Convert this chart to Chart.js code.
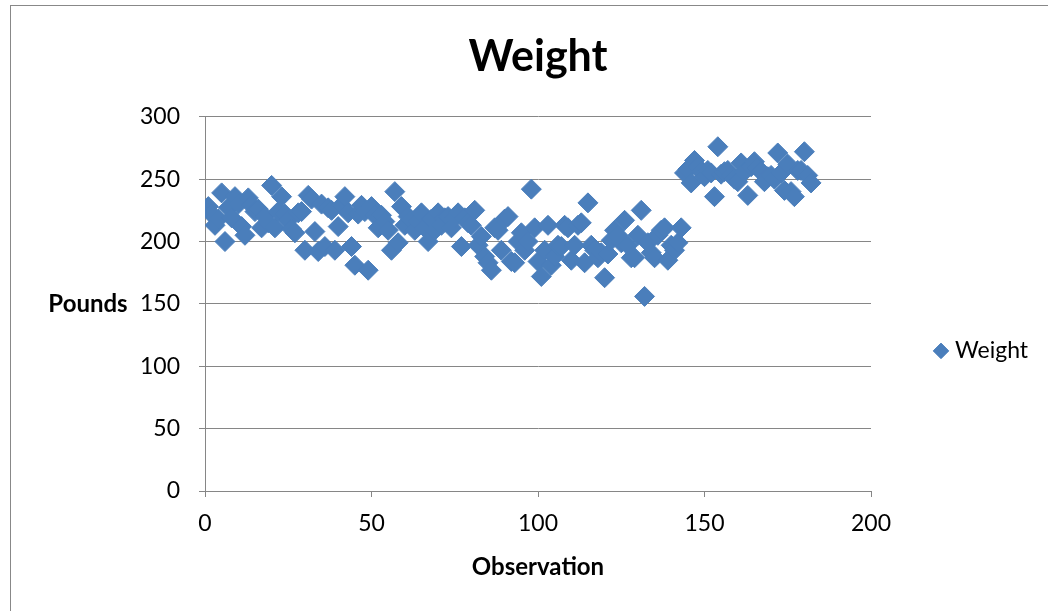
<!DOCTYPE html>
<html>
<head>
<meta charset="utf-8">
<script src="https://cdn.jsdelivr.net/npm/chart.js@4.4.1/dist/chart.umd.min.js"></script>
<style>
  html, body { margin: 0; padding: 0; background: #fff; }
  #frame { position: absolute; left: 10px; top: 5px; width: 1200px; height: 800px; border: 1px solid #888; box-sizing: border-box; }
  #c { position: absolute; left: 0; top: 0; }
</style>
</head>
<body>
<div id="frame"></div>
<canvas id="c" width="1048" height="611"></canvas>
<script>
const chartTitle = 'Weight';
const seriesLabel = 'Weight';
const xAxisTitle = 'Observation';
const yAxisTitle = 'Pounds';
const xTicks = [0, 50, 100, 150, 200];
const yTicks = [0, 50, 100, 150, 200, 250, 300];

// Weight (pounds) by observation 1..182
const weights = [
  228, 222, 213, 218, 239, 200, 227, 219, 236, 230,
  212, 205, 235, 229, 224, 226, 211, 220, 215, 245,
  211, 224, 236, 222, 217, 210, 207, 223, 224, 193,
  237, 234, 208, 192, 230, 196, 227, 225, 193, 212,
  229, 236, 223, 196, 181, 222, 229, 224, 177, 228,
  221, 211, 221, 216, 209, 193, 240, 199, 228, 213,
  220, 217, 209, 216, 223, 211, 200, 218, 209, 223,
  213, 219, 220, 211, 219, 223, 196, 219, 215, 213,
  225, 197, 204, 188, 183, 177, 211, 209, 193, 218,
  220, 184, 183, 200, 207, 193, 200, 242, 211, 184,
  172, 193, 213, 181, 188, 197, 196, 213, 211, 185,
  197, 213, 215, 183, 231, 197, 193, 187, 191, 171,
  190, 201, 209, 205, 199, 217, 197, 187, 187, 205,
  225, 156, 199, 191, 187, 205, 209, 211, 185, 197,
  193, 199, 211, 255, 258, 247, 265, 260, 256, 252,
  257, 255, 236, 276, 254, 256, 257, 253, 250, 248,
  263, 256, 237, 260, 264, 259, 256, 248, 252, 253,
  250, 271, 255, 241, 262, 240, 236, 257, 257, 272,
  253, 247
];

const FONT = 'Lato, "Open Sans", sans-serif';
const AXIS_COLOR = '#868686';
const MARK_COLOR = '#4a7ebb';
Chart.defaults.font.family = FONT;
Chart.defaults.color = '#000';

const legendWidthPlugin = {
  id: 'legendWidth',
  beforeUpdate(chart) {
    const lg = chart.legend;
    if (lg && !lg._fixedFit) {
      const orig = lg.fit.bind(lg);
      lg.fit = function () { orig(); this.width = 177; };
      lg._fixedFit = true;
    }
  }
};

const yTitlePlugin = {
  id: 'yTitleHorizontal',
  afterDraw(chart) {
    const ctx = chart.ctx;
    ctx.save();
    ctx.font = 'bold 24px ' + FONT;
    ctx.fillStyle = '#000';
    ctx.textAlign = 'center';
    ctx.textBaseline = 'middle';
    ctx.fillText(yAxisTitle, 88, 304);
    ctx.restore();
  }
};

new Chart(document.getElementById('c'), {
  type: 'scatter',
  data: {
    datasets: [{
      label: seriesLabel,
      data: weights.map((v, i) => ({ x: i + 1, y: v })),
      pointStyle: 'rectRot',
      pointRadius: 10,
      pointHoverRadius: 10,
      backgroundColor: MARK_COLOR,
      borderColor: MARK_COLOR,
      borderWidth: 1
    }]
  },
  options: {
    responsive: false,
    animation: false,
    devicePixelRatio: 1,
    layout: { padding: 0 },
    plugins: {
      title: {
        display: true, text: chartTitle, fullSize: false, color: '#000',
        font: { family: FONT, size: 43, weight: 'bold', lineHeight: 1.2 },
        padding: { top: 31, bottom: 34.2 }
      },
      legend: {
        position: 'right', fullSize: false, align: 'center',
        title: { display: true, text: '', font: { size: 2, lineHeight: 1 }, padding: { top: 92, bottom: 0 } },
        labels: {
          usePointStyle: true, pointStyle: 'rectRot', boxWidth: 5, boxHeight: 11,
          padding: 67.5, color: '#000', font: { family: FONT, size: 23 }
        }
      },
      tooltip: { enabled: false }
    },
    scales: {
      x: {
        type: 'linear', position: 'bottom',
        min: xTicks[0], max: xTicks[xTicks.length - 1],
        ticks: { stepSize: xTicks[1] - xTicks[0], padding: 13, color: '#000', font: { family: FONT, size: 23 } },
        grid: { drawOnChartArea: false, drawTicks: true, tickLength: 6, color: AXIS_COLOR, lineWidth: 1 },
        border: { display: true, color: AXIS_COLOR, width: 1 },
        title: { display: true, text: xAxisTitle, color: '#000', font: { family: FONT, size: 24, weight: 'bold', lineHeight: 1.2 }, padding: { top: 0, bottom: 29.6 } },
        afterFit(s) { s.height = 120; }
      },
      y: {
        type: 'linear',
        min: yTicks[0], max: yTicks[yTicks.length - 1],
        ticks: { stepSize: yTicks[1] - yTicks[0], padding: 19, color: '#000', font: { family: FONT, size: 23 } },
        grid: { color: AXIS_COLOR, tickLength: 6, lineWidth: 1 },
        border: { display: true, color: AXIS_COLOR, width: 1 },
        afterFit(s) { s.width = 205; }
      }
    }
  },
  plugins: [legendWidthPlugin, yTitlePlugin]
});
</script>
</body>
</html>
